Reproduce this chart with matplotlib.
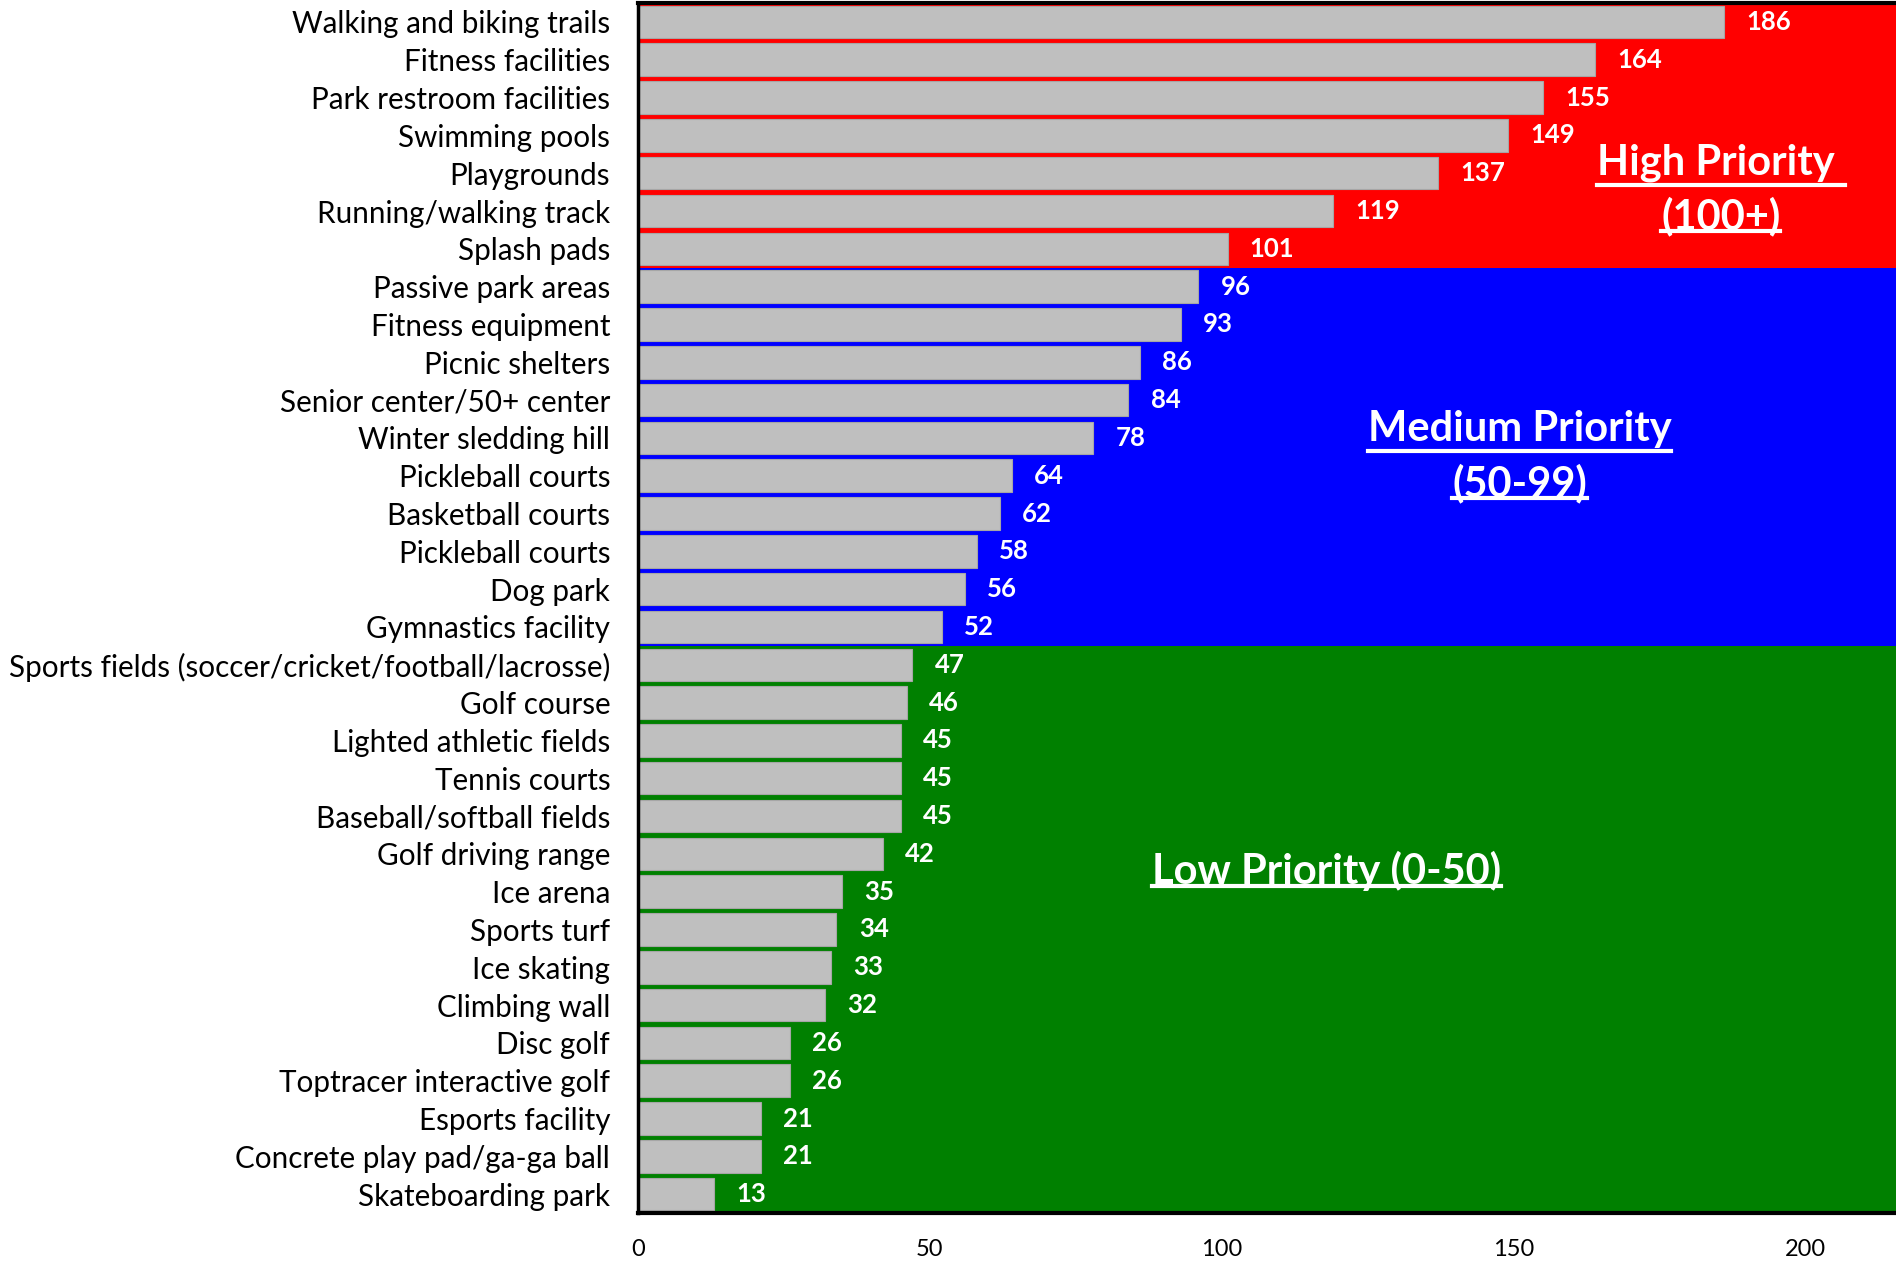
import matplotlib
matplotlib.use("Agg")
import matplotlib.pyplot as plt
from matplotlib.lines import Line2D

categories = [
    "Walking and biking trails", "Fitness facilities", "Park restroom facilities",
    "Swimming pools", "Playgrounds", "Running/walking track", "Splash pads",
    "Passive park areas", "Fitness equipment", "Picnic shelters",
    "Senior center/50+ center", "Winter sledding hill", "Pickleball courts",
    "Basketball courts", "Pickleball courts", "Dog park", "Gymnastics facility",
    "Sports fields (soccer/cricket/football/lacrosse)", "Golf course",
    "Lighted athletic fields", "Tennis courts", "Baseball/softball fields",
    "Golf driving range", "Ice arena", "Sports turf", "Ice skating",
    "Climbing wall", "Disc golf", "Toptracer interactive golf",
    "Esports facility", "Concrete play pad/ga-ga ball", "Skateboarding park",
]
values = [186, 164, 155, 149, 137, 119, 101, 96, 93, 86, 84, 78, 64, 62, 58,
          56, 52, 47, 46, 45, 45, 45, 42, 35, 34, 33, 32, 26, 26, 21, 21, 13]
x_ticks = [0, 50, 100, 150, 200]

band_names = ["High Priority \n(100+)", "Medium Priority\n(50-99)", "Low Priority (0-50)"]
band_counts = [7, 10, 15]
band_colors = ["#FF0000", "#0000FF", "#008000"]
band_label_x = [185.5, 151, 118]
band_label_y = [4.45, 11.5, 22.45]

plt.rcParams['font.family'] = ['Lato', 'DejaVu Sans']

fig = plt.figure(figsize=(18.96, 12.64), dpi=100)
ax = fig.add_axes([0.3365, 0.0403, 0.6635, 0.9573])

n = len(categories)
ypos = list(range(n))
xmax = 215.5

# background bands
start = 0
for cnt, col in zip(band_counts, band_colors):
    ax.axhspan(start - 0.5, start + cnt - 0.5, color=col, zorder=0, lw=0)
    start += cnt

ax.barh(ypos, values, height=0.86, color="#BFBFBF", edgecolor="#A6A6A6",
        linewidth=0.8, zorder=2)

for y, v in zip(ypos, values):
    ax.text(v + 3.8, y, str(v), color="white", fontweight="bold",
            fontsize=18.5, va="center", ha="left", zorder=3)

ax.set_xlim(0, xmax)
ax.set_ylim(n - 0.5, -0.5)
ax.set_yticks(ypos)
ax.set_yticklabels(categories, fontsize=21.3)
ax.set_xticks(x_ticks)
ax.set_xticklabels([str(t) for t in x_ticks], fontsize=17)
ax.tick_params(axis="both", length=0)
ax.tick_params(axis="y", pad=20)
ax.tick_params(axis="x", pad=19)

for s in ["left", "top", "bottom"]:
    ax.spines[s].set_color("black")
ax.spines["left"].set_linewidth(2.5)
ax.spines["top"].set_linewidth(3)
ax.spines["bottom"].set_linewidth(3)
ax.spines["right"].set_visible(False)

# priority labels
FS = 30
texts = []
for name, lx, ly in zip(band_names, band_label_x, band_label_y):
    t = ax.text(lx, ly, name, color="white", fontweight="bold", fontsize=FS,
                ha="center", va="center", zorder=4, linespacing=1.45)
    texts.append(t)

fig.canvas.draw()
renderer = fig.canvas.get_renderer()
inv = fig.transFigure.inverted()
for t in texts:
    lines = t.get_text().split("\n")
    bb = t.get_window_extent(renderer)
    nl = len(lines)
    lh = bb.height / nl
    for i, line in enumerate(lines):
        tmp = ax.text(0, 0, line, fontweight="bold", fontsize=FS)
        w = tmp.get_window_extent(renderer).width
        tmp.remove()
        cx = (bb.x0 + bb.x1) / 2
        ybase = bb.y1 - (i + 1) * lh + lh * 0.12
        (fx0, fy), (fx1, _) = inv.transform([(cx - w / 2, ybase), (cx + w / 2, ybase)])
        fig.add_artist(Line2D([fx0, fx1], [fy, fy], color="white", lw=3, zorder=5))

fig.savefig("out.png", dpi=100)
